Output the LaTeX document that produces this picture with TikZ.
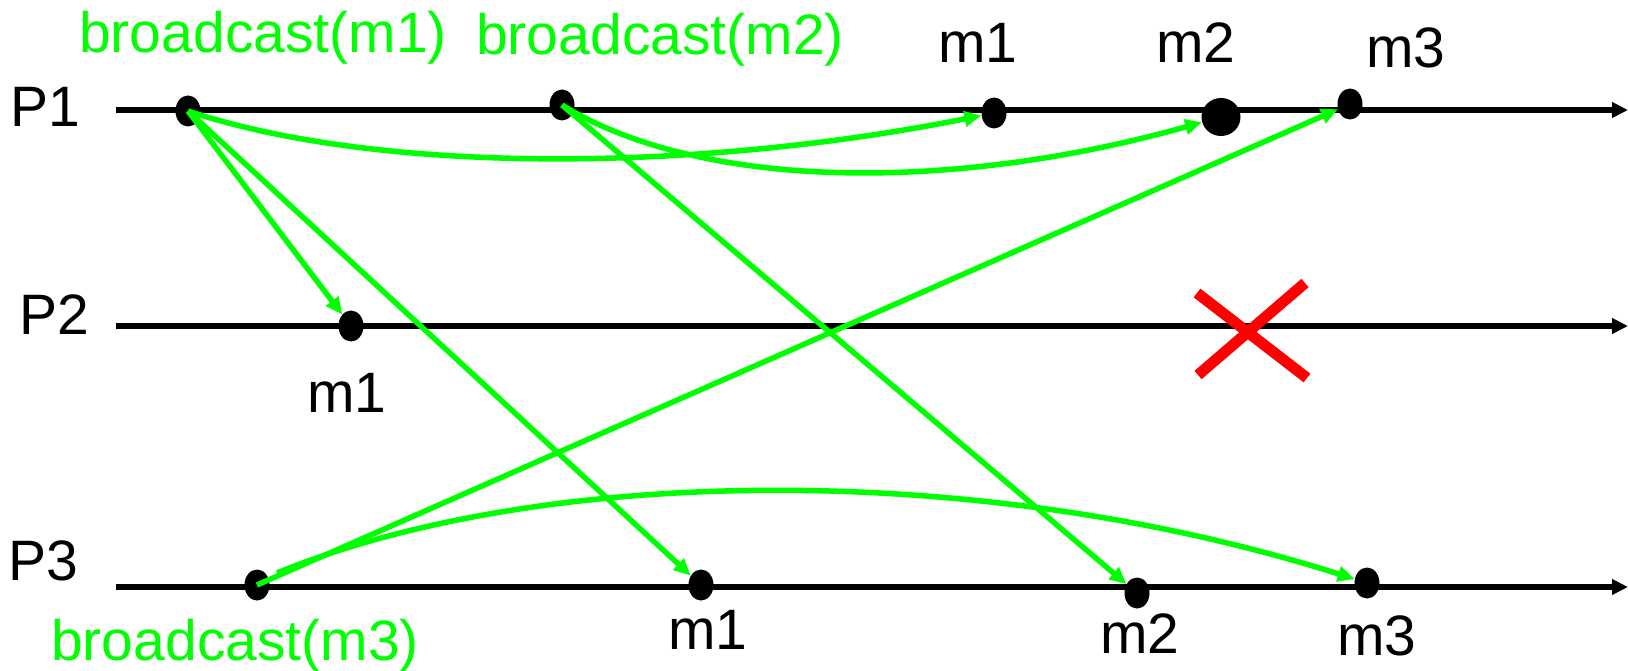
\documentclass[tikz,border=0pt]{standalone}
\usepackage{fontspec}
\setmainfont{Liberation Sans}
\usetikzlibrary{arrows.meta,shapes.geometric}
\definecolor{grn}{RGB}{0,255,0}
\definecolor{xred}{RGB}{255,0,0}
\begin{document}
\begin{tikzpicture}[x=1pt,y=-1pt,
  timeline/.style={line width=5.5pt,-{Triangle[length=16pt,width=15pt]}},
  evdot/.style={ellipse,fill=black,inner sep=0pt,minimum width=25pt,minimum height=31pt},
  bigdot/.style={evdot,minimum width=39pt,minimum height=38pt},
  msg/.style={grn,line width=5.5pt,-{Triangle[length=17pt,width=15pt]}},
  lbl/.style={font=\fontsize{57}{60}\selectfont,inner sep=0pt,anchor=base},
  glbl/.style={lbl,text=grn},
  plbl/.style={lbl,anchor=base west},
  cross/.style={xred,line width=11pt}
]
\useasboundingbox (0,0) rectangle (1628,671);

% process lines
\coordinate (p1s) at (116,110); \coordinate (p1e) at (1628,110);
\coordinate (p2s) at (116,326); \coordinate (p2e) at (1628,326);
\coordinate (p3s) at (116,587); \coordinate (p3e) at (1628,587);
\draw[timeline] (p1s) -- (p1e);
\draw[timeline] (p2s) -- (p2e);
\draw[timeline] (p3s) -- (p3e);

% process labels
\node[plbl] (P1) at (10,127) {P1};
\node[plbl] (P2) at (19,334) {P2};
\node[plbl] (P3) at (8,580) {P3};

% events
\node[evdot] (d11) at (188,111) {};
\node[evdot] (d12) at (562,105) {};
\node[evdot] (r1m1) at (994,113) {};
\node[bigdot] (r1m2) at (1221,117) {};
\node[evdot] (r1m3) at (1350,104) {};
\node[evdot] (r2m1) at (351,326) {};
\node[evdot] (d3) at (257,585) {};
\node[evdot] (r3m1) at (701,585) {};
\node[evdot] (r3m2) at (1137,593) {};
\node[evdot] (r3m3) at (1367,583) {};
\coordinate (c3) at (277,573);

% messages
\draw[msg] (d11.center) .. controls (380,175) and (700,172) .. (r1m1);
\draw[msg] (d12.center) .. controls (700,190) and (950,193) .. (r1m2);
\draw[msg] (d11.center) -- (r2m1);
\draw[msg] (d11.center) -- (r3m1);
\draw[msg] (d12.center) -- (r3m2);
\draw[msg] (d3.center) -- (r1m3);
\draw[msg] (c3) .. controls (540,465) and (980,460) .. (r3m3);

% crash
\coordinate (xa) at (1197,293); \coordinate (xb) at (1307,378);
\coordinate (xc) at (1305,283); \coordinate (xd) at (1198,375);
\draw[cross] (xa) -- (xb);
\draw[cross] (xc) -- (xd);

% labels
\node[glbl] (b1) at (263,53) {broadcast(m1)};
\node[glbl] (b2) at (660,55) {broadcast(m2)};
\node[glbl] (b3) at (235,660) {broadcast(m3)};
\node[lbl] (l1m1) at (978,63) {m1};
\node[lbl] (l1m2) at (1196,63) {m2};
\node[lbl] (l1m3) at (1406,68) {m3};
\node[lbl] (l2m1) at (347,412) {m1};
\node[lbl] (l3m1) at (708,649) {m1};
\node[lbl] (l3m2) at (1140,653) {m2};
\node[lbl] (l3m3) at (1377,655) {m3};
\end{tikzpicture}
\end{document}
